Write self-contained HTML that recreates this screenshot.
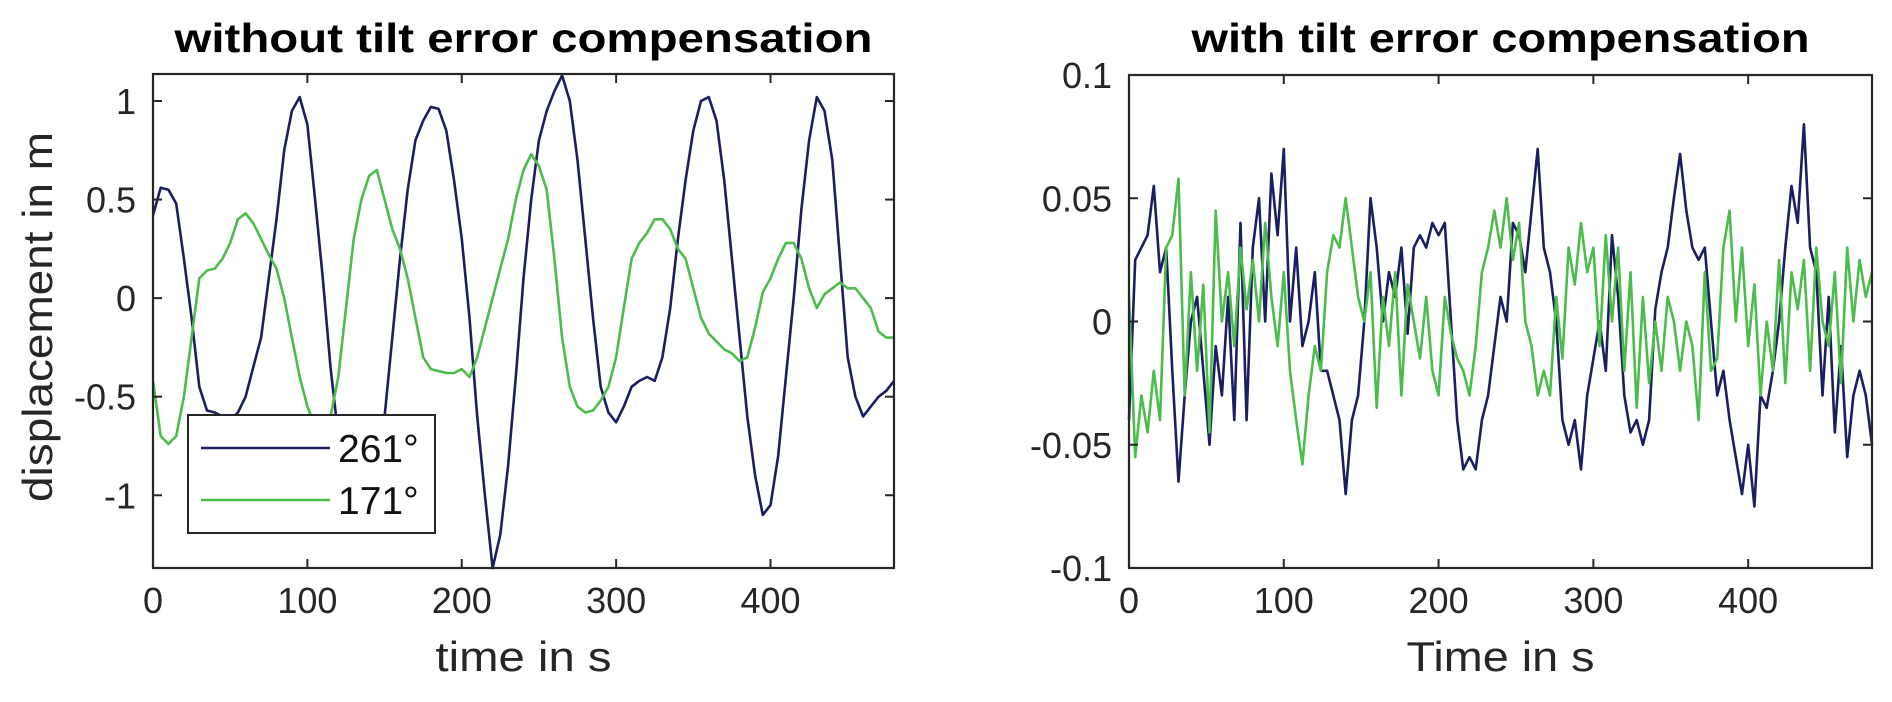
<!DOCTYPE html>
<html><head><meta charset="utf-8"><style>
html,body{margin:0;padding:0;background:#fff;}
svg{display:block;font-family:"Liberation Sans",Arial,sans-serif;}
</style></head><body>
<svg id="fig" width="1892" height="702" viewBox="0 0 1892 702"></svg>
<script>
// ---- data ----
const leftTimeStep = 5;
const leftNavy = [0.42,0.56,0.55,0.48,0.2,-0.1,-0.45,-0.57,-0.58,-0.6,
-0.62,-0.58,-0.5,-0.35,-0.2,0.1,0.4,0.75,0.95,1.02,
0.88,0.5,0.1,-0.35,-0.7,-0.95,-1.05,-1.0,-0.85,-0.6,
-0.6,-0.2,0.2,0.55,0.8,0.9,0.97,0.96,0.85,0.6,
0.3,-0.1,-0.6,-1.0,-1.37,-1.2,-0.85,-0.4,0.1,0.5,
0.8,0.95,1.05,1.13,1.0,0.7,0.3,-0.1,-0.45,-0.58,
-0.63,-0.55,-0.45,-0.42,-0.4,-0.42,-0.3,-0.05,0.3,0.6,
0.85,1.0,1.02,0.9,0.6,0.2,-0.2,-0.6,-0.9,-1.1,
-1.05,-0.8,-0.4,0.0,0.45,0.8,1.02,0.95,0.7,0.2,
-0.3,-0.5,-0.6,-0.55,-0.5,-0.47,-0.42];
const leftGreen = [-0.42,-0.7,-0.74,-0.7,-0.5,-0.2,0.1,0.14,0.15,0.2,
0.28,0.4,0.43,0.38,0.3,0.22,0.15,0.0,-0.2,-0.4,
-0.55,-0.65,-0.7,-0.6,-0.4,-0.05,0.3,0.5,0.62,0.65,
0.5,0.35,0.25,0.1,-0.1,-0.3,-0.36,-0.37,-0.38,-0.38,
-0.36,-0.4,-0.3,-0.15,0.0,0.15,0.3,0.5,0.65,0.73,
0.67,0.55,0.2,-0.2,-0.45,-0.55,-0.58,-0.57,-0.52,-0.45,
-0.3,-0.05,0.2,0.28,0.33,0.4,0.4,0.35,0.25,0.2,
0.05,-0.1,-0.18,-0.22,-0.26,-0.28,-0.32,-0.3,-0.15,0.03,
0.1,0.2,0.28,0.28,0.2,0.05,-0.05,0.02,0.05,0.08,
0.05,0.05,0.0,-0.05,-0.17,-0.2,-0.2];
const rightTimeStep = 4;
const rightNavy = [-0.04,0.025,0.03,0.035,0.055,0.02,0.03,-0.02,-0.065,-0.03,
0.0,0.01,-0.02,-0.05,-0.01,-0.03,0.01,-0.04,0.04,-0.04,
0.03,0.05,0.0,0.06,0.035,0.07,0.0,0.03,-0.01,0.0,
0.02,-0.02,-0.02,-0.03,-0.04,-0.07,-0.04,-0.03,0.0,0.05,
0.03,0.0,0.02,0.01,0.03,-0.005,0.03,0.035,0.03,0.04,
0.035,0.04,0.0,-0.04,-0.06,-0.055,-0.06,-0.04,-0.03,-0.01,
0.01,0.0,0.04,0.035,0.02,0.045,0.07,0.03,0.02,0.0,
-0.04,-0.05,-0.04,-0.06,-0.03,-0.015,0.0,-0.02,0.035,0.01,
-0.03,-0.045,-0.04,-0.05,-0.04,0.005,0.02,0.03,0.05,0.068,
0.045,0.03,0.025,0.03,0.0,-0.03,-0.02,-0.04,-0.055,-0.07,
-0.05,-0.075,-0.03,-0.035,-0.02,0.0,0.03,0.055,0.04,0.08,
0.03,0.02,-0.03,0.01,-0.045,-0.01,-0.055,-0.03,-0.02,-0.03,
-0.05];
const rightGreen = [0.01,-0.055,-0.03,-0.045,-0.02,-0.04,0.03,0.035,0.058,-0.03,
0.02,-0.02,0.015,-0.045,0.045,0.0,0.02,-0.01,0.03,0.005,
0.025,0.0,0.04,0.01,-0.01,0.02,-0.02,-0.04,-0.058,-0.03,
-0.01,-0.02,0.02,0.035,0.03,0.05,0.03,0.01,0.0,0.02,
-0.035,0.01,-0.01,0.02,-0.03,0.015,0.0,-0.015,0.01,-0.02,
-0.03,0.01,-0.005,-0.015,-0.02,-0.03,-0.01,0.02,0.03,0.045,
0.03,0.05,0.025,0.04,0.0,-0.01,-0.03,-0.02,-0.03,0.01,
-0.015,0.03,0.015,0.04,0.02,0.03,-0.01,0.035,0.0,0.03,
-0.02,0.02,-0.035,0.01,-0.025,0.0,-0.02,0.01,0.0,-0.02,
0.0,-0.01,-0.04,0.02,-0.02,-0.015,0.03,0.045,0.0,0.03,
-0.01,0.015,-0.03,0.0,-0.02,0.025,-0.025,0.02,0.005,0.025,
-0.02,0.03,0.0,-0.01,0.02,-0.025,0.03,0.0,0.025,0.01,
0.02];
const xTicks = [0,100,200,300,400];
const leftYTicks = [-1,-0.5,0,0.5,1];
const leftYTickLabels = ["-1","-0.5","0","0.5","1"];
const rightYTicks = [-0.1,-0.05,0,0.05,0.1];
const rightYTickLabels = ["-0.1","-0.05","0","0.05","0.1"];
const legendLabels = ["261°","171°"];

const NAVY="#1b1f62", GREEN="#4cbc4c", AX="#262626";
const svg=document.getElementById('fig');
const NS="http://www.w3.org/2000/svg";
function mk(tag,attrs,parent){const e=document.createElementNS(NS,tag);for(const k in attrs)e.setAttribute(k,attrs[k]);(parent||svg).appendChild(e);return e;}

function drawAxes(o){
  const g=mk('g',{});
  
  
  const sx=v=>o.x0+(v-o.xmin)/(o.xmax-o.xmin)*(o.x1-o.x0);
  const sy=v=>o.y1-(v-o.ymin)/(o.ymax-o.ymin)*(o.y1-o.y0);
  o.series.forEach(s=>{
    let d='';
    s.vals.forEach((v,i)=>{d+=(i?'L':'M')+sx(i*o.step).toFixed(1)+' '+sy(v).toFixed(1);});
    const p=mk('path',{d:d,fill:'none',stroke:s.color,'stroke-width':2.6,'stroke-linejoin':'round'},g);
    
    
  });
  const box=mk('rect',{x:o.x0,y:o.y0,width:o.x1-o.x0,height:o.y1-o.y0,fill:'none',stroke:AX,'stroke-width':2.2},g);
  
  
  xTicks.forEach(t=>{
    const x=sx(t);
    mk('line',{x1:x,y1:o.y1,x2:x,y2:o.y1-9,stroke:AX,'stroke-width':2},g);
    mk('line',{x1:x,y1:o.y0,x2:x,y2:o.y0+9,stroke:AX,'stroke-width':2},g);
    const tx=mk('text',{x:x,y:613,'text-anchor':'middle','font-size':36,fill:AX},g);
    tx.textContent=String(t);
    
    
  });
  o.yTicks.forEach((t,i)=>{
    const y=sy(t);
    mk('line',{x1:o.x0,y1:y,x2:o.x0+9,y2:y,stroke:AX,'stroke-width':2},g);
    mk('line',{x1:o.x1,y1:y,x2:o.x1-9,y2:y,stroke:AX,'stroke-width':2},g);
    const tx=mk('text',{x:o.x0-17,y:y+13,'text-anchor':'end','font-size':36,fill:AX},g);
    tx.textContent=o.yLabels[i];
    
    
  });
  const ti=mk('text',{x:(o.x0+o.x1)/2,y:52,'text-anchor':'middle','font-size':41,'font-weight':'bold',fill:'#000',textLength:o.titleW,lengthAdjust:'spacingAndGlyphs'},g);
  ti.textContent=o.title;
  
  
  const xl=mk('text',{x:(o.x0+o.x1)/2,y:671,'text-anchor':'middle','font-size':42,fill:AX,textLength:o.xlW,lengthAdjust:'spacingAndGlyphs'},g);
  xl.textContent=o.xlabel;
  
  
  return {sx,sy,g};
}

drawAxes({name:'left-chart',x0:153,x1:894,y0:74,y1:568,xmin:0,xmax:480,ymin:-1.369,ymax:1.137,step:leftTimeStep,
  series:[{vals:leftNavy,color:NAVY,name:'line-261'},{vals:leftGreen,color:GREEN,name:'line-171'}],
  yTicks:leftYTicks,yLabels:leftYTickLabels,title:'without tilt error compensation',titleW:698,xlabel:'time in s',xlW:176});
drawAxes({name:'right-chart',x0:1129,x1:1872,y0:75,y1:568,xmin:0,xmax:480,ymin:-0.1,ymax:0.1,step:rightTimeStep,
  series:[{vals:rightNavy,color:NAVY,name:'line-261-compensated'},{vals:rightGreen,color:GREEN,name:'line-171-compensated'}],
  yTicks:rightYTicks,yLabels:rightYTickLabels,title:'with tilt error compensation',titleW:618,xlabel:'Time in s',xlW:188});

const yl=mk('text',{x:0,y:0,transform:'translate(52,317) rotate(-90)','text-anchor':'middle','font-size':42,fill:AX,textLength:370,lengthAdjust:'spacingAndGlyphs'});
yl.textContent='displacement in m';



const lg=mk('g',{});


mk('rect',{x:188,y:415,width:247,height:118,fill:'#fff',stroke:'#262626','stroke-width':2},lg);
[NAVY,GREEN].forEach((c,i)=>{
  const y=448+i*52;
  const ent=mk('g',{},lg);
  
  
  mk('line',{x1:201,y1:y,x2:330,y2:y,stroke:c,'stroke-width':2.4},ent);
  const t=mk('text',{x:338,y:y+14,'font-size':39,fill:'#111'},ent);
  t.textContent=legendLabels[i];
});
</script>
</body></html>
